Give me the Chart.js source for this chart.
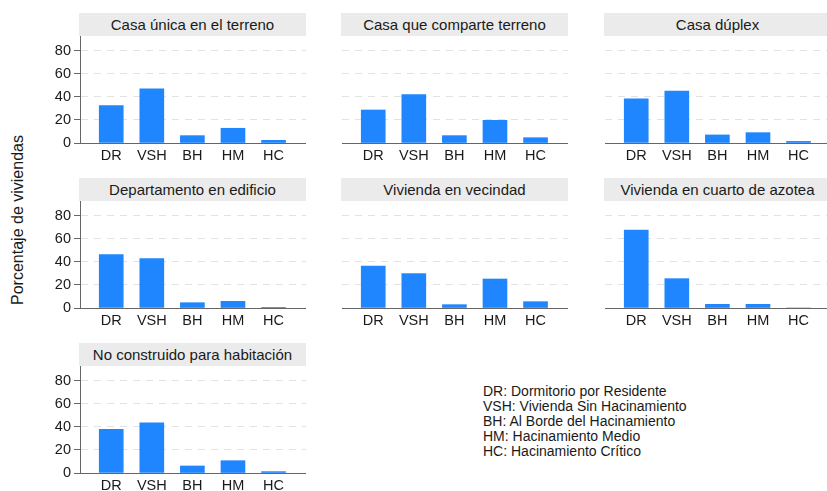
<!DOCTYPE html>
<html>
<head>
<meta charset="utf-8">
<script src="https://cdn.jsdelivr.net/npm/chart.js@4"></script>
<style>
    html, body { margin: 0; padding: 0; background: #fff; }
    body { width: 827px; height: 491px; position: relative; overflow: hidden; font-family: "Liberation Sans", Arial, sans-serif; color: #1a1a1a; }
    .panel { position: absolute; }
    .strip { position: absolute; height: 23px; line-height: 23px; background: #ebebeb; text-align: center; font-size: 15px; white-space: nowrap; overflow: hidden; }
    #ytitle { position: absolute; left: 18px; top: 220px; transform: translate(-50%, -50%) rotate(-90deg); font-size: 16px; white-space: nowrap; }
    #notes { position: absolute; left: 483px; top: 384px; font-size: 14px; line-height: 15px; white-space: nowrap; }
</style>
</head>
<body>
<div id="ytitle">Porcentaje de viviendas</div>
<div id="notes"></div>
<script>
const categories = ["DR", "VSH", "BH", "HM", "HC"];
const yTicks = [0, 20, 40, 60, 80];
const yMax = 93;

const panelTitles = [
    "Casa única en el terreno",
    "Casa que comparte terreno",
    "Casa dúplex",
    "Departamento en edificio",
    "Vivienda en vecindad",
    "Vivienda en cuarto de azotea",
    "No construido para habitación"
];

// porcentaje de viviendas, orden: DR, VSH, BH, HM, HC
const casaUnica = [32.5, 47.0, 6.4, 12.8, 2.3];
const casaComparte = [28.7, 42.0, 6.4, 19.7, 4.6];
const casaDuplex = [38.3, 45.2, 7.0, 9.0, 1.4];
const departamento = [46.4, 42.9, 4.6, 5.8, 0.6];
const vecindad = [36.5, 29.9, 2.9, 25.2, 5.5];
const azotea = [67.8, 25.5, 3.2, 3.2, 0];
const noConstruido = [38.0, 43.5, 6.1, 10.7, 1.2];

const notes = [
    "DR: Dormitorio por Residente",
    "VSH: Vivienda Sin Hacinamiento",
    "BH: Al Borde del Hacinamiento",
    "HM: Hacinamiento Medio",
    "HC: Hacinamiento Crítico"
];

const panelData = [casaUnica, casaComparte, casaDuplex, departamento, vecindad, azotea, noConstruido];

document.getElementById("notes").innerHTML = notes.join("<br>");

const colLeft = [80, 342, 605];
const rowTop = [36, 201, 366];
const plotW = 226;
const plotH = 107;
const axisW = 40;
const xAxisH = 25;
const barColor = "#1f86ff";
const axisColor = "#666666";
const tickFont = { family: "'Liberation Sans', Arial, sans-serif", size: 14.5 };

function makePanel(idx) {
    const col = idx % 3;
    const row = Math.floor(idx / 3);
    const showY = col === 0;
    const left = colLeft[col] - (showY ? axisW : 0);
    const width = plotW + (showY ? axisW : 0);

    const strip = document.createElement("div");
    strip.className = "strip";
    strip.style.left = (colLeft[col] - 1) + "px";
    strip.style.top = (rowTop[row] - 23) + "px";
    strip.style.width = (plotW + 1) + "px";
    strip.textContent = panelTitles[idx];
    document.body.appendChild(strip);

    const box = document.createElement("div");
    box.className = "panel";
    box.style.left = left + "px";
    box.style.top = rowTop[row] + "px";
    box.style.width = width + "px";
    box.style.height = (plotH + xAxisH) + "px";
    const canvas = document.createElement("canvas");
    box.appendChild(canvas);
    document.body.appendChild(box);

    return new Chart(canvas, {
        type: "bar",
        data: {
            datasets: [{
                data: panelData[idx].map((v, i) => ({ x: i, y: v })),
                backgroundColor: barColor,
                borderWidth: 0,
                barThickness: 24
            }]
        },
        options: {
            responsive: true,
            maintainAspectRatio: false,
            devicePixelRatio: 1,
            animation: false,
            layout: { padding: 0 },
            plugins: {
                legend: { display: false },
                tooltip: { enabled: false },
                title: { display: false }
            },
            scales: {
                x: {
                    type: "linear",
                    offset: false,
                    min: -0.77,
                    max: 4.8,
                    afterBuildTicks: (scale) => {
                        scale.ticks = categories.map((c, i) => ({ value: i }));
                    },
                    afterFit: (scale) => {
                        scale.height = xAxisH;
                        scale.paddingLeft = 0;
                        scale.paddingRight = 0;
                    },
                    grid: { display: false, drawTicks: false, offset: false },
                    border: { display: true, color: axisColor, width: 1 },
                    ticks: {
                        autoSkip: false,
                        maxRotation: 0,
                        padding: 4,
                        color: "#1a1a1a",
                        font: tickFont,
                        callback: (value) => categories[value]
                    }
                },
                y: {
                    min: 0,
                    max: yMax,
                    afterBuildTicks: (scale) => {
                        scale.ticks = yTicks.map((v) => ({ value: v }));
                    },
                    afterFit: (scale) => {
                        scale.width = showY ? axisW : 0;
                        scale.paddingTop = 0;
                        scale.paddingBottom = 0;
                    },
                    grid: {
                        color: (ctx) => ctx.tick && ctx.tick.value === 0 ? "rgba(0,0,0,0)" : "#e2e2e2",
                        lineWidth: 1,
                        tickColor: axisColor,
                        tickLength: 6,
                        tickBorderDash: [],
                        drawTicks: showY
                    },
                    border: { display: showY, color: axisColor, width: 1, dash: [7, 6] },
                    ticks: {
                        display: showY,
                        padding: 3,
                        color: "#1a1a1a",
                        font: tickFont
                    }
                }
            }
        }
    });
}

panelData.forEach((d, i) => makePanel(i));
</script>
</body>
</html>
